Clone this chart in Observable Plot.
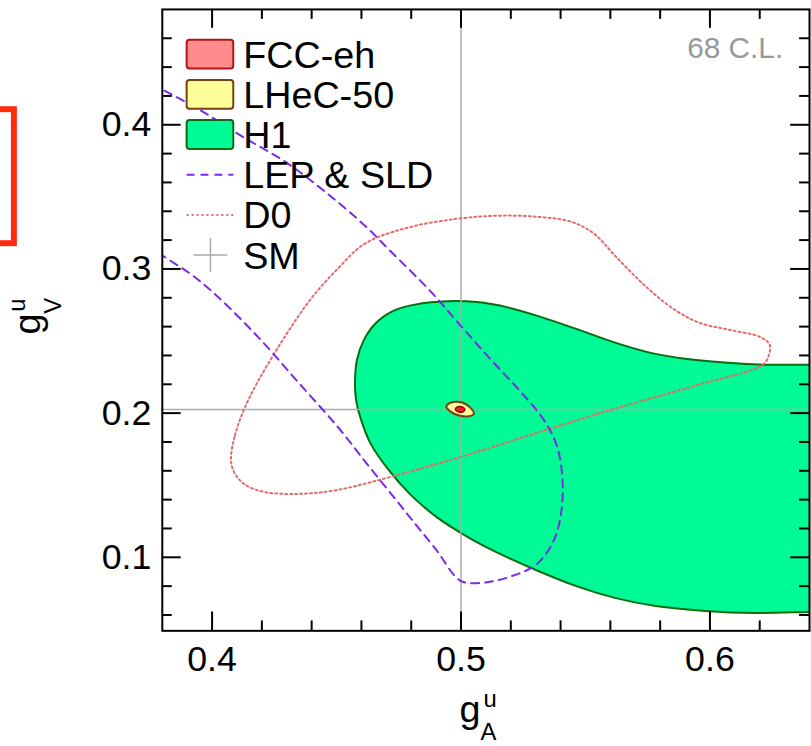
<!DOCTYPE html>
<html><head><meta charset="utf-8">
<script src="https://cdn.jsdelivr.net/npm/d3@7"></script>
<script src="https://cdn.jsdelivr.net/npm/@observablehq/plot@0.6"></script>
<style>
html,body{margin:0;padding:0;overflow:hidden;background:#fff;width:811px;height:746px;}
#chart{position:absolute;left:0;top:0;}
</style></head><body><div id="chart"></div>
<script>
// ---- tick values ----
const xMajorTicks = [0.4, 0.5, 0.6];
const xMinorTicks = [0.42, 0.44, 0.46, 0.48, 0.52, 0.54, 0.56, 0.58, 0.62];
const yMajorTicks = [0.1, 0.2, 0.3, 0.4];
const yMinorTicks = [0.06, 0.08, 0.12, 0.14, 0.16, 0.18, 0.22, 0.24, 0.26, 0.28, 0.32, 0.34, 0.36, 0.38, 0.42, 0.44, 0.46];

// ---- Standard Model point ----
const smGA = 0.5;
const smGV = 0.2025;

// ---- H1 68% contour (gA, gV) ----
const h1GA = [0.4574,0.4582,0.4610,0.4658,0.4726,0.4825,0.4945,0.5064,0.5184,0.5323,0.5463,0.5622,0.5762,0.5901,0.6072,0.6220,0.6400,0.6579,
              0.6579,0.6400,0.6180,0.5981,0.5782,0.5622,0.5463,0.5303,0.5144,0.5024,0.4905,0.4794,0.4706,0.4638,0.4598,0.4578];
const h1GV = [0.2212,0.2370,0.2508,0.2625,0.2708,0.2756,0.2776,0.2770,0.2735,0.2666,0.2584,0.2487,0.2418,0.2377,0.2349,0.2336,0.2336,0.2336,
              0.0628,0.0621,0.0614,0.0628,0.0662,0.0717,0.0800,0.0910,0.1034,0.1144,0.1275,0.1440,0.1613,0.1785,0.1957,0.2095];

// ---- D0 contour ----
const d0GA = [0.4076,0.4092,0.4132,0.4188,0.4247,0.4315,0.4399,0.4506,0.4614,0.4785,0.4984,0.5144,0.5303,0.5443,0.5534,0.5622,0.5741,0.5861,0.5960,0.6080,0.6200,0.6240,0.6236,0.6212,0.5941,0.5543,0.4996,0.4745,0.4506,0.4347,0.4208,0.4128,0.4088];
const d0GV = [0.1681,0.1847,0.2040,0.2232,0.2405,0.2591,0.2797,0.3004,0.3176,0.3286,0.3348,0.3369,0.3362,0.3327,0.3245,0.3086,0.2880,0.2714,0.2625,0.2577,0.2529,0.2474,0.2398,0.2336,0.2191,0.1992,0.1695,0.1571,0.1468,0.1440,0.1454,0.1509,0.1592];

// ---- LEP & SLD contour ----
const lepGA = [0.3710,0.3801,0.3949,0.4120,0.4296,0.4455,0.4614,0.4718,0.4877,0.4996,0.5116,0.5235,0.5331,0.5383,0.5407,0.5403,0.5371,0.5303,0.5203,0.5104,0.5012,0.4976,0.4905,0.4825,0.4745,0.4626,0.4506,0.4347,0.4188,0.4016,0.3921,0.3801,0.3710];
const lepGV = [0.4326,0.4243,0.4105,0.3920,0.3741,0.3534,0.3300,0.3121,0.2846,0.2612,0.2378,0.2157,0.1957,0.1785,0.1558,0.1316,0.1110,0.0951,0.0869,0.0827,0.0827,0.0869,0.1041,0.1213,0.1385,0.1640,0.1902,0.2212,0.2522,0.2818,0.2956,0.3093,0.3210];

// ---- LHeC-50 contour ----
const lhecGA = [0.4941,0.4961,0.5004,0.5032,0.5052,0.5032,0.4992,0.4957];
const lhecGV = [0.2046,0.2074,0.2074,0.2046,0.1998,0.1978,0.1984,0.2012];

// ---- FCC-eh contour ----
const fccGA = [0.4977,0.4985,0.4996,0.5008,0.5016,0.5008,0.4996,0.4985];
const fccGV = [0.2026,0.2043,0.2046,0.2040,0.2026,0.2009,0.2006,0.2013];

// ---- legend ----
const legendLabels = ["FCC-eh", "LHeC-50", "H1", "LEP & SLD", "D0", "SM"];
const clText = "68 C.L.";

const pts = (a, b) => a.map((d, i) => ({x: d, y: b[i]}));

const FONT = "'Liberation Sans', Arial, Helvetica, sans-serif";
const colH1 = "#00fa96", colH1s = "#0d6b12";
const colLHeC = "#ffff99", colLHeCs = "#7a3e10";
const colFCC = "#ff8c8c", colFCCs = "#b01515";
const colLEP = "#7b2ae6", colD0 = "#e56a6a", colSM = "#aaaaaa";

// frame size: 817-163-2 = 652 wide, 746-9-111 = 626 tall
const FW = 652, FH = 626, MINOR = 10, MAJOR = 19;

const plot = Plot.plot({
  width: 817, height: 746,
  marginLeft: 163, marginRight: 2, marginTop: 9, marginBottom: 111,
  x: {domain: [0.38, 0.64]},
  y: {domain: [0.049, 0.48]},
  style: {fontFamily: FONT, background: "white", color: "black", overflow: "visible"},
  marks: [
    Plot.line(pts(h1GA, h1GV), {x: "x", y: "y", curve: "catmull-rom-closed", fill: colH1, stroke: colH1s, strokeWidth: 2, clip: true}),
    Plot.ruleX([smGA], {stroke: colSM, strokeWidth: 1.5}),
    Plot.ruleY([smGV], {stroke: colSM, strokeWidth: 1.5}),
    Plot.line(pts(d0GA, d0GV), {x: "x", y: "y", curve: "catmull-rom-closed", stroke: colD0, strokeWidth: 2, strokeDasharray: "2,3", clip: true}),
    Plot.line(pts(lepGA, lepGV), {x: "x", y: "y", curve: "catmull-rom", stroke: colLEP, strokeWidth: 2, strokeDasharray: "8,6", clip: true}),
    Plot.line(pts(lhecGA, lhecGV), {x: "x", y: "y", curve: "catmull-rom-closed", fill: colLHeC, stroke: colLHeCs, strokeWidth: 2}),
    Plot.line(pts(fccGA, fccGV), {x: "x", y: "y", curve: "catmull-rom-closed", fill: "#e02828", stroke: "#a00000", strokeWidth: 1.5}),
    Plot.frame({stroke: "black", strokeWidth: 2}),
    // inward ticks on all four sides
    Plot.tickX(xMinorTicks, {x: d => d, insetTop: FH - MINOR, stroke: "black", strokeWidth: 2}),
    Plot.tickX(xMajorTicks, {x: d => d, insetTop: FH - MAJOR, stroke: "black", strokeWidth: 2}),
    Plot.tickX(xMinorTicks, {x: d => d, insetBottom: FH - MINOR, stroke: "black", strokeWidth: 2}),
    Plot.tickX(xMajorTicks, {x: d => d, insetBottom: FH - MAJOR, stroke: "black", strokeWidth: 2}),
    Plot.tickY(yMinorTicks, {y: d => d, insetRight: FW - MINOR, stroke: "black", strokeWidth: 2}),
    Plot.tickY(yMajorTicks, {y: d => d, insetRight: FW - MAJOR, stroke: "black", strokeWidth: 2}),
    Plot.tickY(yMinorTicks, {y: d => d, insetLeft: FW - MINOR, stroke: "black", strokeWidth: 2}),
    Plot.tickY(yMajorTicks, {y: d => d, insetLeft: FW - MAJOR, stroke: "black", strokeWidth: 2}),
    // tick labels
    Plot.axisX(xMajorTicks, {anchor: "bottom", tickSize: 0, tickPadding: 15, fontSize: 36, tickFormat: d3.format(".1f"), label: null}),
    Plot.axisY(yMajorTicks, {anchor: "left", tickSize: 0, tickPadding: 11, fontSize: 36, tickFormat: d3.format(".1f"), label: null})
  ]
});
document.getElementById("chart").appendChild(plot);

const svg = d3.select(plot);

// legend
const leg = svg.append("g").attr("font-family", FONT).attr("font-size", 38).attr("text-anchor", "start");
const boxes = [[colFCC, colFCCs], [colLHeC, colLHeCs], [colH1, colH1s]];
legendLabels.forEach((lab, i) => {
  const cy = 54.5 + i * 40.5;
  if (i < 3) {
    leg.append("rect").attr("x", 188).attr("y", cy - 14.5).attr("width", 47).attr("height", 29)
      .attr("rx", 3).attr("fill", boxes[i][0]).attr("stroke", boxes[i][1]).attr("stroke-width", 2);
  } else if (i === 3) {
    leg.append("line").attr("x1", 188).attr("x2", 235).attr("y1", cy).attr("y2", cy)
      .attr("stroke", colLEP).attr("stroke-width", 2).attr("stroke-dasharray", "8,6");
  } else if (i === 4) {
    leg.append("line").attr("x1", 188).attr("x2", 235).attr("y1", cy).attr("y2", cy)
      .attr("stroke", colD0).attr("stroke-width", 2).attr("stroke-dasharray", "2,3");
  } else {
    leg.append("line").attr("x1", 195).attr("x2", 229).attr("y1", cy).attr("y2", cy).attr("stroke", colSM).attr("stroke-width", 1.5);
    leg.append("line").attr("x1", 212).attr("x2", 212).attr("y1", cy - 17).attr("y2", cy + 17).attr("stroke", colSM).attr("stroke-width", 1.5);
  }
  leg.append("text").attr("x", 245).attr("y", cy).attr("dy", "0.36em").attr("fill", "black").text(lab);
});

// 68 C.L.
svg.append("text").attr("x", 789).attr("y", 58).attr("text-anchor", "end").attr("font-family", FONT)
  .attr("font-size", 30).attr("fill", "#999").text(clText);

// x title g_A^u
const xt = svg.append("g").attr("font-family", FONT).attr("fill", "black").attr("text-anchor", "start");
xt.append("text").attr("x", 463).attr("y", 727).attr("font-size", 38).text("g");
xt.append("text").attr("x", 487).attr("y", 712).attr("font-size", 24).text("u");
xt.append("text").attr("x", 484).attr("y", 745).attr("font-size", 24).text("A");

// y title g_V^u (rotated)
const yt = svg.append("g").attr("font-family", FONT).attr("fill", "black").attr("text-anchor", "start")
  .attr("transform", "translate(40,337) rotate(-90)");
yt.append("text").attr("x", 0).attr("y", 0).attr("font-size", 38).text("g");
yt.append("text").attr("x", 23).attr("y", -15).attr("font-size", 24).text("u");
yt.append("text").attr("x", 21).attr("y", 21).attr("font-size", 24).text("V");

// red frame fragment at the left edge
svg.append("rect").attr("x", -20).attr("y", 110).attr("width", 34).attr("height", 135)
  .attr("fill", "none").attr("stroke", "#ff2a10").attr("stroke-width", 6);
</script></body></html>
